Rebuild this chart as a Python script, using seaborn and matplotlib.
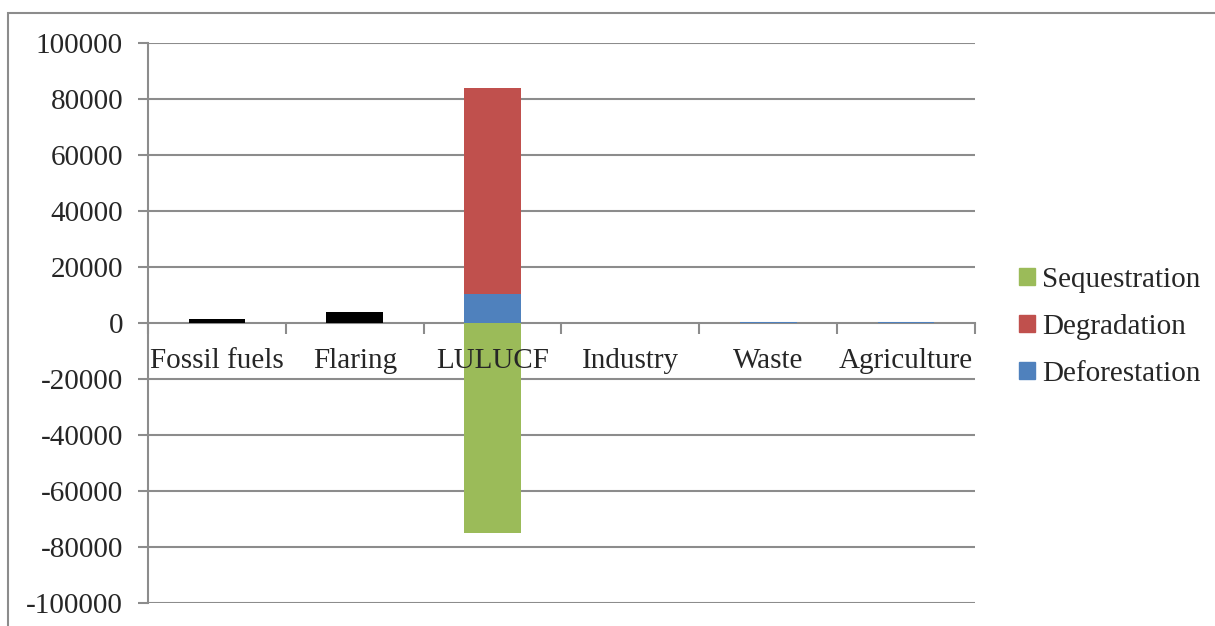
import matplotlib
matplotlib.use("Agg")
import matplotlib.pyplot as plt
import matplotlib.patches as mpatches
import numpy as np
import pandas as pd
import seaborn as sns

categories = ["Fossil fuels", "Flaring", "LULUCF", "Industry", "Waste", "Agriculture"]
other_emissions = [1500, 3900, 0, 0, 0, 0]
deforestation = [0, 0, 10500, 0, 300, 300]
degradation = [0, 0, 73400, 0, 0, 0]
sequestration = [0, 0, -75000, 0, 0, 0]
y_ticks = [-100000, -80000, -60000, -40000, -20000, 0, 20000, 40000, 60000, 80000, 100000]

sns.set_theme(style="white")
plt.rcParams['font.family'] = ['Liberation Serif', 'DejaVu Serif']

W, H = 1215, 626
fig = plt.figure(figsize=(W / 100, H / 100), dpi=100)
ax = fig.add_axes([148 / W, 1 - 603 / H, (975 - 148) / W, (603 - 43) / H])

grey = "#8c8c8c"
c_seq, c_deg, c_def = "#9BBB59", "#C0504D", "#4F81BD"

df = pd.DataFrame({
    "cat": categories,
    "other": other_emissions,
    "def": deforestation,
    "deg_cum": np.array(deforestation) + np.array(degradation),
    "seq": sequestration,
})

bw = 0.41
kw = dict(width=bw, saturation=1, ax=ax, zorder=3, linewidth=0, edgecolor="none")
sns.barplot(data=df, x="cat", y="deg_cum", color=c_deg, **kw)
sns.barplot(data=df, x="cat", y="def", color=c_def, **kw)
sns.barplot(data=df, x="cat", y="seq", color=c_seq, **kw)
sns.barplot(data=df, x="cat", y="other", color="black", **kw)

ax.set_xlim(-0.5, len(categories) - 0.5)
ax.set_ylim(-100000, 100000)
ax.set_yticks(y_ticks)
ax.set_yticklabels([str(v) for v in y_ticks], fontsize=21)
ax.set_xlabel("")
ax.set_ylabel("")

for y in y_ticks:
    if y != 0:
        ax.axhline(y, color=grey, lw=1.5, zorder=1)

ax.spines["top"].set_visible(False)
ax.spines["right"].set_visible(False)
ax.spines["left"].set_color(grey)
ax.spines["left"].set_linewidth(1.5)
ax.spines["bottom"].set_position(("data", 0))
ax.spines["bottom"].set_color(grey)
ax.spines["bottom"].set_linewidth(1.5)
for s in ax.spines.values():
    s.set_zorder(2)

ax.set_xticks(np.arange(-0.5, len(categories), 1.0))
ax.set_xticklabels([])
ax.set_xticks(np.arange(len(categories)), minor=True)
ax.set_xticklabels(categories, minor=True, fontsize=21)
ax.tick_params(axis="x", which="major", direction="out", length=8, width=1.5, color=grey, bottom=True)
ax.tick_params(axis="x", which="minor", length=0, pad=18, bottom=True)
ax.tick_params(axis="y", direction="out", length=7, width=1.5, color=grey, left=True, pad=11)
ax.xaxis.set_zorder(5)

handles = [mpatches.Patch(color=c_seq, label="Sequestration"),
           mpatches.Patch(color=c_deg, label="Degradation"),
           mpatches.Patch(color=c_def, label="Deforestation")]
fig.legend(handles=handles, loc="center left", bbox_to_anchor=(1019 / W, 1 - 327 / H),
           frameon=False, fontsize=21, handlelength=0.55, handleheight=0.55,
           handletextpad=0.25, labelspacing=0.72, borderaxespad=0, borderpad=0)

fig.patches.append(mpatches.Rectangle((8 / W, -0.1), 1.1, 1 - 13 / H + 0.1,
                                      transform=fig.transFigure, fill=False,
                                      edgecolor=grey, lw=1.5))

fig.savefig("out.png", dpi=100)
